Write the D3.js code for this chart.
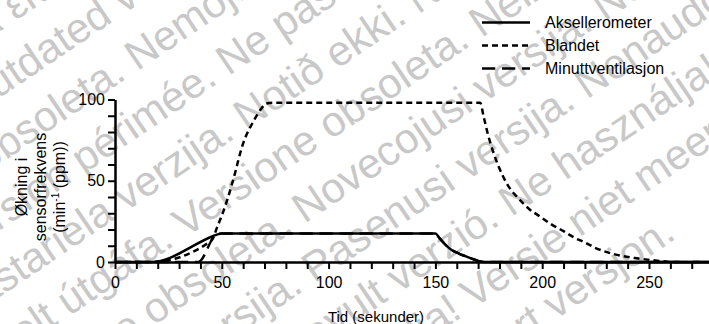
<!DOCTYPE html>
<html>
<head>
<meta charset="utf-8">
<script src="https://cdn.jsdelivr.net/npm/d3@7"></script>
<style>
  body { margin: 0; background: #fff; }
  svg { display: block; }
  text { font-family: "Liberation Sans", Arial, Helvetica, sans-serif; }
</style>
</head>
<body>
<svg id="chart" width="709" height="324"></svg>
<script>
// Increase in sensor rate (min^-1) over time (s) for each sensor mode
const aksTime = [0, 17, 46, 48, 50, 53, 150, 152, 154, 156, 158, 161, 164, 167, 170, 173, 280];
const aksRate = [0, 0, 16, 17, 17.5, 17.6, 17.6, 14.5, 11.6, 9.0, 7.1, 5.2, 3.6, 2.1, 0.7, 0, 0];

const blTime = [0, 17, 45, 48, 52, 55, 60, 65, 68, 71, 74, 171, 172.5, 174.5, 177, 180, 184, 189, 194, 199, 204.5, 210, 215, 220, 225, 231, 237, 243.5, 251, 258, 262, 280];
const blRate = [0, 0, 13, 22, 36, 49, 73, 87, 93.5, 97.5, 98, 98, 90, 79, 68, 57.5, 47, 39, 32.5, 28, 23, 19, 15, 12, 8.6, 5.8, 3.8, 2.4, 1.2, 0.3, 0, 0];

const mvTime = [0, 39, 47, 48, 50, 53, 150, 152, 154, 156, 158, 161, 164, 167, 170, 173, 280];
const mvRate = [0, 0, 16.4, 17, 17.5, 17.6, 17.6, 14.5, 11.6, 9.0, 7.1, 5.2, 3.6, 2.1, 0.7, 0, 0];

const seriesNames = ["Aksellerometer", "Blandet", "Minuttventilasjon"];

const xTicks = [0, 50, 100, 150, 200, 250];
const yTicks = [0, 50, 100];

const xTitle = "Tid (sekunder)";
const yTitleLines = ["Økning i", "sensorfrekvens"];

// Background notice, one string per diagonal row
const notice = [
  "Παλιά έκδοση. Μην την χρησιμοποιείτε.",
  "Outdated version. Ne pas utiliser. Versione obsoleta.",
  "Version obsoleta. Nemojte upotrebljavati. Ne pas utiliser.",
  "Version périmée. Ne pas utiliser. Notið ekki. Non utilizzare.",
  "Zastariela verzija. Notið ekki. Neizmantot. Neizmantokite.",
  "Úrelt útgáfa. Versione obsoleta. Neizmantokite. Versie.",
  "Versione obsoleta. Novecojusi versija. Nenaudokite. Ne használja!",
  "Novecojusi versija. Pasenusi versija. Nenaudokite. Versie.",
  "Pasenusi versija. Elavult verzió. Ne használja! Versie niet.",
  "Elavult verzió. Ne használja! Versie niet meer geldig.",
  "Versie niet meer geldig. Utdatert versjon.",
  "Utdatert versjon. Skal ikke brukes."
];
const noticeShift = [-120, -90, -260, -180, -210, -220, -230, -260, -300, -320, -330, -340];

const svg = d3.select("#chart");

// watermark layer: rows rotated -34 degrees, 55 px apart
const ang = 34 * Math.PI / 180;
const wm = svg.append("g").attr("fill", "#c8c8c8").attr("font-size", 42);
notice.forEach((t, i) => {
  const d = 26 + i * 55, a = noticeShift[i];
  const px = d * Math.sin(ang) + a * Math.cos(ang);
  const py = d * Math.cos(ang) - a * Math.sin(ang);
  wm.append("text")
    .attr("transform", `translate(${px.toFixed(1)},${py.toFixed(1)}) rotate(-34)`)
    .text(t);
});

const x = d3.scaleLinear().domain([0, 280]).range([115, 115 + 2.136 * 280]);
const y = d3.scaleLinear().domain([0, 100]).range([262, 99.5]);

const line = d3.line()
  .x(d => x(d[0]))
  .y(d => y(d[1]))
  .curve(d3.curveMonotoneX);

const mvData = d3.zip(mvTime, mvRate);
const blData = d3.zip(blTime, blRate);
const aksData = d3.zip(aksTime, aksRate);

const plot = svg.append("g");
plot.append("path").datum(mvData).attr("d", line)
  .attr("fill", "none").attr("stroke", "#000").attr("stroke-width", 2.5)
  .attr("stroke-dasharray", "13.3,6.7");
plot.append("path").datum(blData).attr("d", line)
  .attr("fill", "none").attr("stroke", "#000").attr("stroke-width", 2.5)
  .attr("stroke-dasharray", "6,4");
plot.append("path").datum(aksData).attr("d", line)
  .attr("fill", "none").attr("stroke", "#000").attr("stroke-width", 2.5);

// axes
const xAxis = d3.axisBottom(x)
  .tickValues(d3.range(0, 281, 10))
  .tickFormat(d => xTicks.includes(d) ? d : "")
  .tickSize(7).tickPadding(8).tickSizeOuter(0);
const gx = svg.append("g").attr("transform", `translate(0,${y(0)})`).call(xAxis);

const yAxis = d3.axisLeft(y)
  .tickValues(d3.range(0, 101, 10))
  .tickFormat(d => yTicks.includes(d) ? d : "")
  .tickSize(7).tickPadding(3).tickSizeOuter(0);
const gy = svg.append("g").attr("transform", `translate(${x(0)},0)`).call(yAxis);

[gx, gy].forEach(g => {
  g.select(".domain").attr("stroke", "#000").attr("stroke-width", 2.5);
  g.selectAll(".tick line").attr("stroke", "#000").attr("stroke-width", 2);
  g.selectAll(".tick text").attr("font-size", 16).attr("fill", "#000")
    .attr("font-family", "Liberation Sans, Arial, sans-serif");
});

// axis titles
svg.append("text")
  .attr("x", 376).attr("y", 322)
  .attr("text-anchor", "middle").attr("font-size", 15)
  .text(xTitle);

const yt = svg.append("g").attr("transform", "translate(0,187) rotate(-90)");
yTitleLines.forEach((t, i) => {
  yt.append("text").attr("x", 0).attr("y", 27 + i * 19)
    .attr("text-anchor", "middle").attr("font-size", 16).text(t);
});
const unit = yt.append("text").attr("x", 0).attr("y", 65)
  .attr("text-anchor", "middle").attr("font-size", 16);
unit.append("tspan").text("(min");
unit.append("tspan").attr("font-size", 10).attr("dy", -6).text("-1");
unit.append("tspan").attr("dy", 6).text(" (ppm))");

// legend
const dashes = [null, "6,4", "13.3,6.7"];
const lg = svg.append("g");
seriesNames.forEach((name, i) => {
  const ry = 22.5 + i * 23;
  lg.append("line").attr("x1", 482).attr("x2", 530).attr("y1", ry).attr("y2", ry)
    .attr("stroke", "#000").attr("stroke-width", 2.5)
    .attr("stroke-dasharray", dashes[i]);
  lg.append("text").attr("x", 545).attr("y", ry).attr("dy", "0.35em")
    .attr("font-size", 16).text(name);
});
</script>
</body>
</html>
